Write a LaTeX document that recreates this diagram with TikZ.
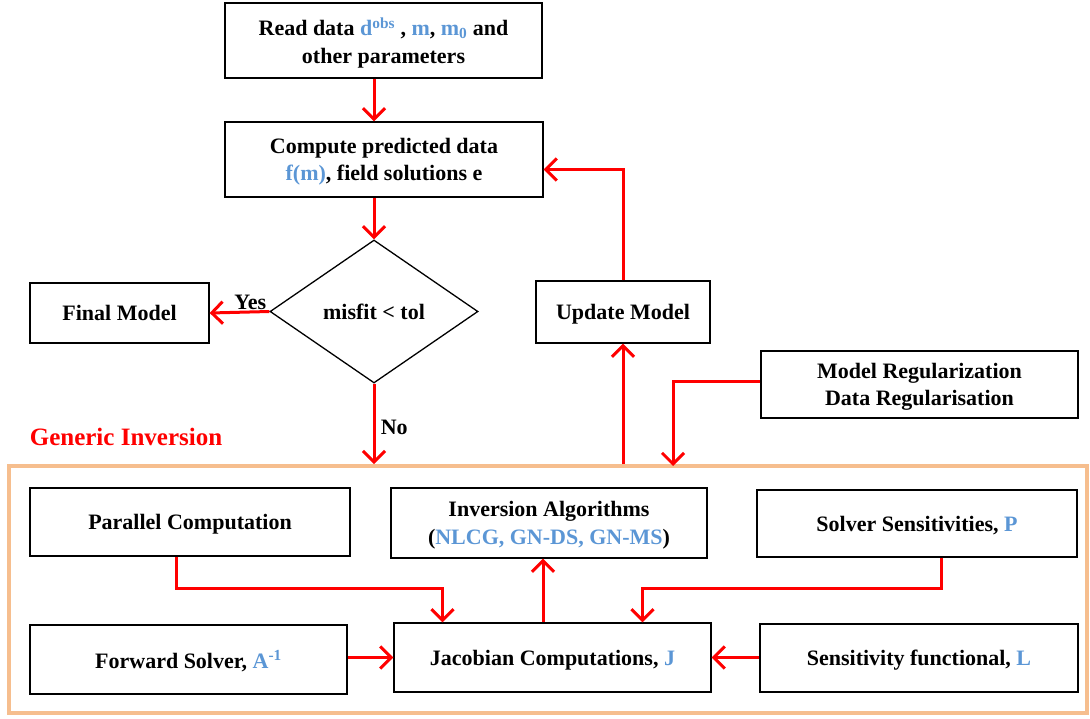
\documentclass[tikz,border=0pt]{standalone}
\usepackage{fontspec}
\setmainfont{Liberation Serif}
\usetikzlibrary{arrows.meta,shapes.geometric}
\definecolor{symblue}{RGB}{91,150,213}
\definecolor{frameorange}{RGB}{246,190,142}
\newcommand{\sym}[1]{\textcolor{symblue}{#1}}

\begin{document}
\begin{tikzpicture}[x=1pt,y=-1pt,
    font=\bfseries\fontsize{22}{27.5}\selectfont,
    block/.style={draw,line width=1.3pt,align=center,inner sep=0pt,text depth=0pt},
    flow/.style={red,line width=3pt,-{Straight Barb[length=11pt,width=22pt,line width=3pt]}}]
\useasboundingbox (0,0) rectangle (1090,718);

% main loop
\node[block,minimum width=317pt,minimum height=75pt] (read) at (383.5,40.5)
    {Read data \sym{d\textsuperscript{obs}} , \sym{m}, \sym{m\textsubscript{0}} and\\other parameters};
\node[block,minimum width=318pt,minimum height=75pt] (compute) at (384,159.5)
    {Compute predicted data\\\sym{f(m)}, field solutions e};
\node[block,diamond,minimum width=208pt,minimum height=143pt] (misfit) at (374,311.5) {misfit < tol};
\node[block,minimum width=179pt,minimum height=60pt] (final) at (119.5,313) {Final Model};
\node[block,minimum width=174pt,minimum height=62pt] (update) at (623,312) {Update Model};
\node[block,minimum width=317pt,minimum height=67pt] (reg) at (919.5,384.5)
    {Model Regularization\\Data Regularisation};

% generic inversion part
\node[draw=frameorange,line width=4pt,minimum width=1078pt,minimum height=247pt] (generic) at (548,589.5) {};
\node[red,font=\bfseries\fontsize{25}{29}\selectfont] (gentitle) at (126,437) {Generic Inversion};
\node[block,minimum width=320pt,minimum height=68pt] (parallel) at (190,522) {Parallel Computation};
\node[block,minimum width=316pt,minimum height=70pt] (invalg) at (549,523)
    {Inversion Algorithms\\(\sym{NLCG, GN-DS, GN-MS})};
\node[block,minimum width=320pt,minimum height=67pt] (solver) at (917,523.5) {Solver Sensitivities, \sym{P}};
\node[block,minimum width=317pt,minimum height=69pt] (forward) at (188.5,659.5) {Forward Solver, \sym{A\textsuperscript{-1}}};
\node[block,minimum width=317pt,minimum height=69pt] (jacobian) at (552.5,657.5) {Jacobian Computations, \sym{J}};
\node[block,minimum width=318pt,minimum height=68pt] (sensfun) at (919,658) {Sensitivity functional, \sym{L}};
\coordinate (regin) at (673,466);

\draw[flow] (misfit.north |- read.south) -- (misfit.north |- compute.north);
\draw[flow] (misfit.north |- compute.south) -- (misfit.north);
\draw[flow] (misfit.west) -- (final.east) node[black,pos=0.32,above=-3pt] (yes) {Yes};
\draw[flow] (misfit.south) -- (misfit.south |- generic.north) node[black,pos=0.55,right=2pt] (no) {No};
\draw[flow] (update.south |- generic.north) -- (update.south);
\draw[flow] (update.north) |- ([yshift=-10pt]compute.east);
\draw[flow] ([yshift=3.5pt]reg.west) -| (regin);

\draw[flow] ([xshift=-14pt]parallel.south) -- ++(0,32) -| ([xshift=-110pt]jacobian.north);
\draw[flow] ([xshift=24pt]solver.south) -- ++(0,31) -| ([xshift=90pt]jacobian.north);
\draw[flow] ([xshift=-9.5pt]jacobian.north) -- ([xshift=-6pt]invalg.south);
\draw[flow] (forward.east |- jacobian.west) -- (jacobian.west);
\draw[flow] (sensfun.west |- jacobian.east) -- (jacobian.east);
\end{tikzpicture}
\end{document}
